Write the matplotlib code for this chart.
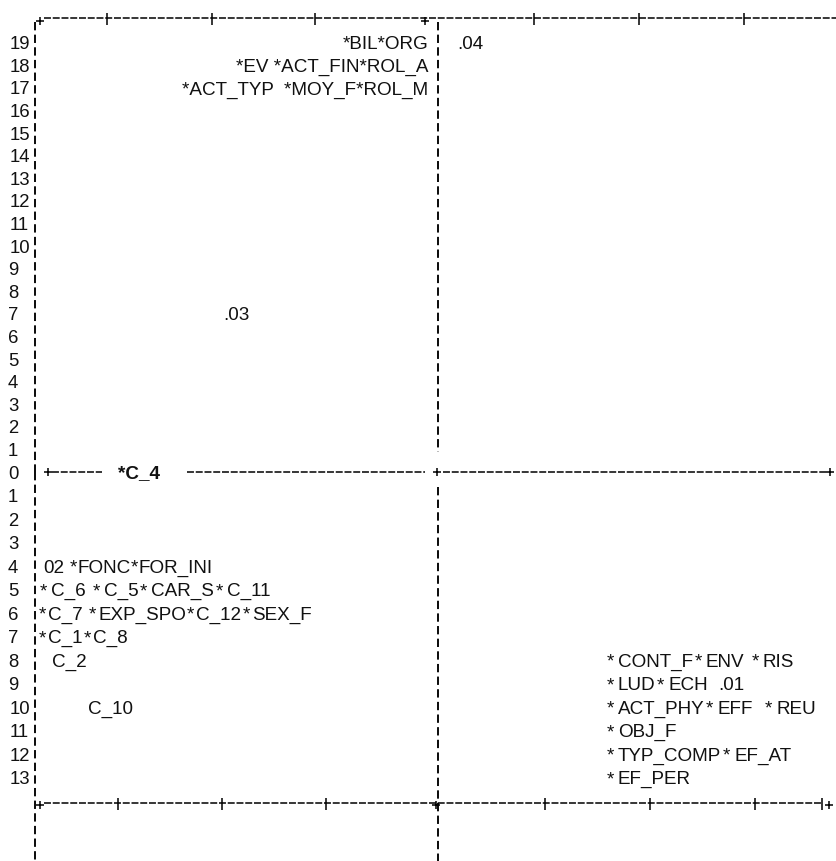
import re
import matplotlib.pyplot as plt

plt.rcParams["font.family"] = ["Liberation Sans", "DejaVu Sans"]
plt.rcParams["lines.scale_dashes"] = False

# row numbers printed in the left margin
upper_rows = list(range(19, 0, -1))
lower_rows = list(range(0, 14))

# upper-left quadrant, right aligned against the vertical axis
ul_rows = [19, 18, 17]
ul_labels = ["*BIL*ORG", "*EV *ACT_FIN*ROL_A", "*ACT_TYP  *MOY_F*ROL_M"]

# class markers in the upper half
cls_rows = [19, 7]
cls_labels = [".04", ".03"]

# point sitting on the horizontal axis
axis_label = "*C_4"

# lower-left quadrant
ll_rows = [4, 5, 6, 7, 8, 10]
ll_labels = ["02 *FONC*FOR_INI", "*C_6 *C_5*CAR_S*C_11",
             "*C_7 *EXP_SPO*C_12*SEX_F", "*C_1*C_8", "C_2", "C_10"]

# lower-right quadrant
lr_rows = [8, 9, 10, 11, 12, 13]
lr_labels = ["*CONT_F*ENV *RIS", "*LUD*ECH  .01", "*ACT_PHY*EFF  *REU",
             "*OBJ_F", "*TYP_COMP*EF_AT", "*EF_PER"]

# layout (pixels)
W, H = 836, 861
ZERO_Y = 472
UP_STEP = 22.6
LO_STEP = 23.5
LEFT_X = 35
MID_X = 438
BASE = 0.29
FS_NUM = 13.3
FS = 13.6
INK = "#111111"
PX = 0.72  # points per pixel at dpi 100

fig = plt.figure(figsize=(W / 100, H / 100), dpi=100)
fig.patch.set_facecolor("white")

ax_up = fig.add_axes([0, 1 - ZERO_Y / H, 1, ZERO_Y / H])
ax_up.set_xlim(0, W)
ax_up.set_ylim(0, ZERO_Y / UP_STEP)

ax_lo = fig.add_axes([0, 0, 1, (H - ZERO_Y) / H])
ax_lo.set_xlim(0, W)
ax_lo.set_ylim((H - ZERO_Y) / LO_STEP, 0)

for ax in (ax_up, ax_lo):
    ax.axis("off")


def spaced_label(ax, x, y, s, pad_before=1.5, pad_after=4.0, fs=FS):
    # the printout leaves extra room around each asterisk
    tokens = re.findall(r"\*|[^* ]+| +", s)
    prev = None
    shift = 0.0
    for tok in tokens:
        if tok.startswith(" "):
            shift += len(tok) * 0.278 * fs
            continue
        if tok == "*":
            shift += pad_before * PX
        if prev is None:
            prev = ax.text(x + shift / PX, y, tok, fontsize=fs, color=INK,
                           ha="left", va="baseline")
        else:
            prev = ax.annotate(tok, xy=(1, 0), xycoords=prev,
                               xytext=(shift, 0), textcoords="offset points",
                               fontsize=fs, color=INK, ha="left", va="bottom")
        shift = pad_after * PX if tok == "*" else 0.0


vdash = dict(color="black", lw=1.35, linestyle=(0, (6, 3.1)), clip_on=False)
hdash = dict(color="black", lw=1.1, linestyle=(0, (5, 1.3)), clip_on=False)
tick = dict(color="black", marker="|", ls="none", ms=9, mew=1.1, clip_on=False)
plus = dict(color="black", marker="+", ls="none", ms=6, mew=1.1, clip_on=False)

# vertical axes
lo_bottom = (H - ZERO_Y) / LO_STEP
ax_up.plot([LEFT_X, LEFT_X], [19.9, 0], **vdash)
ax_lo.plot([LEFT_X, LEFT_X], [0, lo_bottom], **vdash)
ax_up.plot([MID_X, MID_X], [19.9, 0.88], **vdash)
ax_lo.plot([MID_X, MID_X], [0.64, lo_bottom], **vdash)

# top frame
ax_up.plot([44, W], [20.1, 20.1], **hdash)
ax_up.plot([107, 212, 315, 534, 639, 744], [20.05] * 6, **tick)
ax_up.plot([40, 425], [19.95, 19.95], **plus)

# horizontal axis (row 0)
ax_lo.plot([52, 102], [0, 0], **hdash)
ax_lo.plot([187, 425], [0, 0], **hdash)
ax_lo.plot([443, 826], [0, 0], **hdash)
ax_lo.plot([48, 437, 830], [0.02] * 3, **plus)
ax_lo.text(118, BASE - 0.05, axis_label, fontsize=FS, fontweight="bold",
           color=INK, ha="left", va="baseline")

# bottom frame
ax_lo.plot([44, 822], [14.1, 14.1], **hdash)
ax_lo.plot([118, 222, 326, 545, 650, 755, 822], [14.12] * 7, **tick)
ax_lo.plot([40, 436, 829], [14.15] * 3, **plus)

# row numbers (two-digit ones sit slightly further right)
for r in upper_rows:
    ax_up.text(10 if r > 9 else 8, r - BASE, str(r), fontsize=FS_NUM,
               color=INK, ha="left", va="baseline")
for r in lower_rows:
    ax_lo.text(10 if r > 9 else 8, r + BASE, str(r), fontsize=FS_NUM,
               color=INK, ha="left", va="baseline")

# upper half labels
for r, s in zip(ul_rows, ul_labels):
    ax_up.text(428, r - BASE, s, fontsize=FS, color=INK,
               ha="right", va="baseline")
for r, s, x in zip(cls_rows, cls_labels, [457, 223]):
    ax_up.text(x, r - BASE, s, fontsize=FS, color=INK,
               ha="left", va="baseline")

# lower half labels
ll_pads = [0.5, 5.5, 2.8, 3.0, 0, 0]
for r, s, x, p in zip(ll_rows, ll_labels, [43, 38, 38, 38, 52, 88], ll_pads):
    spaced_label(ax_lo, x, r + BASE, s, pad_before=p * 0.3, pad_after=p * 0.7)
for r, s in zip(lr_rows, lr_labels):
    spaced_label(ax_lo, 605, r + BASE, s)

fig.savefig("out.png", dpi=100, facecolor="white")
